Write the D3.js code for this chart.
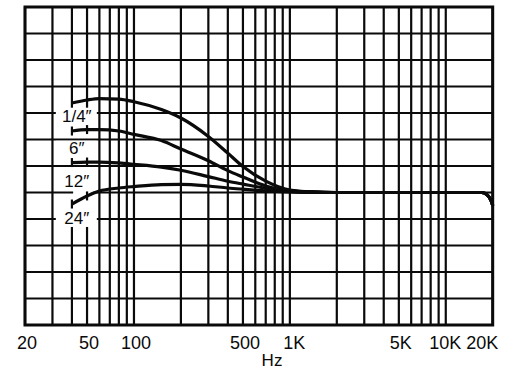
<!DOCTYPE html>
<html>
<head>
<meta charset="utf-8">
<script src="https://cdn.jsdelivr.net/npm/d3@7"></script>
<style>
  body { margin: 0; background: #fff; }
  svg { display: block; }
</style>
</head>
<body>
<div id="chart"></div>
<script>
const width = 507
const height = 372

// dB relative to the flat 1K level (2 dB per grid row)
const freqs = [40, 50, 60, 80, 100, 150, 200, 300, 400, 500, 700, 1000, 1400, 2000]
const quarterInch = [6.75, 6.98, 7.09, 7.05, 6.85, 6.26, 5.62, 4.23, 2.97, 1.96, 0.86, 0.19, 0.04, 0]
const sixInch     = [4.64, 4.75, 4.75, 4.64, 4.39, 3.92, 3.28, 2.40, 1.65, 1.17, 0.49, 0.11, 0.04, 0]
const twelveInch  = [2.26, 2.30, 2.30, 2.23, 2.13, 1.92, 1.68, 1.20, 0.85, 0.63, 0.32, 0.15, 0.04, 0]
const twoFootInch = [-0.87, -0.26, 0.11, 0.34, 0.45, 0.60, 0.62, 0.49, 0.34, 0.25, 0.13, 0.05, 0, 0]

// all four distances share the same top end
const tailFreqs = [5000, 10000, 16000, 17000, 18500, 19300, 19800, 20000]
const tailDb = [0, 0, 0, 0, -0.2, -0.5, -0.8, -1.0]

const curveNames = ["1/4\u2033", "6\u2033", "12\u2033", "24\u2033"]
const curveValues = [quarterInch, sixInch, twelveInch, twoFootInch]

const tickValues = [20, 50, 100, 500, 1000, 5000, 10000, 20000]
const tickLabels = ["20", "50", "100", "500", "1K", "5K", "10K", "20K"]

const gridFreqs = [20, 30, 40, 50, 60, 70, 80, 90, 100,
  200, 300, 400, 500, 600, 700, 800, 900, 1000,
  2000, 3000, 4000, 5000, 6000, 7000, 8000, 9000, 10000, 20000]
const gridDb = [-10, -8, -6, -4, -2, 0, 2, 4, 6, 8, 10, 12, 14]

const x = d3.scaleLog()
    .domain([20, 20000])
    .range([25, 492.7])

const y = d3.scaleLinear()
    .domain([-10, 14])
    .range([325, 7])

const ink = "#0a0a0a"
const font = "'Liberation Sans', Arial, sans-serif"

const svg = d3.select("#chart")
  .append("svg")
    .attr("width", width)
    .attr("height", height)
    .style("background", "#fff")

const grid = svg.append("g")
    .attr("stroke", ink)
    .attr("stroke-width", 2.2)

grid.selectAll("line.h")
  .data(gridDb)
  .join("line")
    .attr("class", "h")
    .attr("x1", x(20))
    .attr("x2", x(20000))
    .attr("y1", d => y(d))
    .attr("y2", d => y(d))

// the 40 and 50 Hz lines stop where the distance labels sit
const bandTop = 6.4
const bandBottom = -2.6
const verticals = []
for (const f of gridFreqs) {
  if (f === 40 || f === 50) {
    verticals.push({ f, a: 14, b: bandTop })
    verticals.push({ f, a: bandBottom, b: -10 })
  } else {
    verticals.push({ f, a: 14, b: -10 })
  }
}

grid.selectAll("line.v")
  .data(verticals)
  .join("line")
    .attr("class", "v")
    .attr("x1", d => x(d.f))
    .attr("x2", d => x(d.f))
    .attr("y1", d => y(d.a))
    .attr("y2", d => y(d.b))

svg.append("rect")
    .attr("x", x(20))
    .attr("y", y(14))
    .attr("width", x(20000) - x(20))
    .attr("height", y(-10) - y(14))
    .attr("fill", "none")
    .attr("stroke", ink)
    .attr("stroke-width", 3)

// white knock-outs behind the labels
const labelFreq = 43
const labelDb = [5.75, 3.3, 0.82, -1.95]

svg.append("g")
    .attr("fill", "#fff")
  .selectAll("rect")
  .data(labelDb)
  .join("rect")
    .attr("x", x(labelFreq) - 21)
    .attr("width", 41)
    .attr("y", d => y(d) - 8)
    .attr("height", 16)

svg.append("rect")
    .attr("fill", "#fff")
    .attr("x", x(40) + 1.2)
    .attr("width", x(55) - x(40) - 1.2)
    .attr("y", y(0) - 1.6)
    .attr("height", 3.2)

const line = d3.line()
    .x(d => x(d[0]))
    .y(d => y(d[1]))
    .curve(d3.curveMonotoneX)

const series = curveValues.map(vals =>
  freqs.map((f, i) => [f, vals[i]]).concat(tailFreqs.map((f, i) => [f, tailDb[i]])))

svg.append("g")
    .attr("fill", "none")
    .attr("stroke", ink)
    .attr("stroke-width", 3.2)
    .attr("stroke-linejoin", "round")
  .selectAll("path")
  .data(series)
  .join("path")
    .attr("d", line)

// little end ticks at 40 and 50 Hz for the lower three curves
const ticks = []
curveValues.slice(1).forEach(vals => {
  ticks.push({ f: 40, v: vals[0] })
  ticks.push({ f: 50, v: vals[1] })
})

svg.append("g")
    .attr("stroke", ink)
    .attr("stroke-width", 2.2)
  .selectAll("line")
  .data(ticks)
  .join("line")
    .attr("x1", d => x(d.f))
    .attr("x2", d => x(d.f))
    .attr("y1", d => y(d.v) - 4.5)
    .attr("y2", d => y(d.v) + 4.5)

svg.append("g")
    .style("font", `17px ${font}`)
    .attr("fill", ink)
    .attr("text-anchor", "middle")
    .attr("dominant-baseline", "central")
  .selectAll("text")
  .data(curveNames)
  .join("text")
    .attr("x", x(labelFreq))
    .attr("y", (d, i) => y(labelDb[i]))
    .text(d => d)

const axis = svg.append("g")
    .attr("transform", `translate(0,${y(-10)})`)
    .call(d3.axisBottom(x)
      .tickValues(tickValues)
      .tickFormat((d, i) => tickLabels[i])
      .tickSize(0))

// 20K is pulled inside the frame, 10K nudged left to leave a gap
const nudge = { 20000: -11, 10000: -1, 1000: 4 }
axis.select(".domain").remove()
axis.selectAll("text")
    .attr("y", 11)
    .attr("dx", d => nudge[d] !== undefined ? nudge[d] : 1.5)
    .attr("fill", ink)
    .style("font", `18px ${font}`)

svg.append("text")
    .attr("x", 272)
    .attr("y", 366)
    .attr("text-anchor", "middle")
    .attr("fill", ink)
    .style("font", `17px ${font}`)
    .text("Hz")
</script>
</body>
</html>
